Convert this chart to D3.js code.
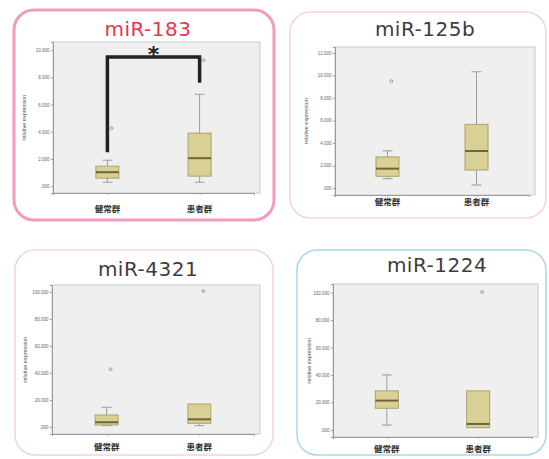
<!DOCTYPE html>
<html>
<head>
<meta charset="utf-8">
<script src="https://cdn.jsdelivr.net/npm/d3@7"></script>
<style>
  html, body { margin: 0; padding: 0; background: #ffffff; }
  svg { display: block; }
</style>
</head>
<body>
<svg id="chart" width="549" height="459"></svg>
<script>
// Groups on the x axis
const groups = ["健常群", "患者群"];

// Box statistics per group: [lower whisker, Q1, median, Q3, upper whisker]
const mir183Stats  = [[0.29, 0.59, 1.03, 1.47, 1.91], [0.29, 0.74, 2.06, 3.90, 6.76]];
const mir183Out    = [[4.26], [9.26]];
const mir183Ticks  = [0, 2, 4, 6, 8, 10];

const mir125bStats = [[0.83, 1.04, 1.72, 2.76, 3.30], [0.27, 1.60, 3.29, 5.66, 10.33]];
const mir125bOut   = [[9.5], []];
const mir125bTicks = [0, 2, 4, 6, 8, 10, 12];

const mir4321Stats = [[1.0, 1.5, 3.5, 8.9, 14.6], [1.0, 2.7, 5.7, 17.0, 17.0]];
const mir4321Out   = [[42.7], [100.7]];
const mir4321Ticks = [0, 20, 40, 60, 80, 100];

const mir1224Stats = [[3.6, 15.8, 21.4, 28.5, 40.1], [1.7, 1.7, 4.4, 28.5, 28.5]];
const mir1224Out   = [[], [100.5]];
const mir1224Ticks = [0, 20, 40, 60, 80, 100];

// Significance bracket for miR-183: [left arm end, bar level, right arm end]
const bracketLevels = [2.5, 9.5, 7.6];
const bracketMark = "*";

const panels = [
  { title: "miR-183", titleColor: "#e8364d", stats: mir183Stats, out: mir183Out, ticks: mir183Ticks,
    domain: [-0.5, 10.6], frame: [14, 10, 260, 210], frameColor: "#f19bc1", frameWidth: 3,
    plot: [53, 42, 207, 151], title_xy: [148, 36], labelY: 212, axisX: 26, bracket: true },
  { title: "miR-125b", titleColor: "#3d3d3d", stats: mir125bStats, out: mir125bOut, ticks: mir125bTicks,
    domain: [-0.62, 12.53], frame: [290, 12, 256, 206], frameColor: "#f6d3dc", frameWidth: 1.5,
    plot: [335, 47, 200, 148], title_xy: [425, 36], labelY: 205, axisX: 308 },
  { title: "miR-4321", titleColor: "#3d3d3d", stats: mir4321Stats, out: mir4321Out, ticks: mir4321Ticks,
    domain: [-5.2, 105.2], frame: [15, 250, 258, 205], frameColor: "#f6d3dc", frameWidth: 1.5,
    plot: [52, 285, 208, 149], title_xy: [148, 276], labelY: 450, axisX: 27 },
  { title: "miR-1224", titleColor: "#3d3d3d", stats: mir1224Stats, out: mir1224Out, ticks: mir1224Ticks,
    domain: [-5.1, 106.3], frame: [297, 250, 249, 205], frameColor: "#a6d7ec", frameWidth: 1.5,
    plot: [333, 284, 205, 153], title_xy: [437, 272], labelY: 452, axisX: 311 }
];

const svg = d3.select("#chart");
const tickFmt = v => d3.format(".3f")(v).replace(/^0\./, ".");

panels.forEach(p => {
  const g = svg.append("g");
  const [fx, fy, fw, fh] = p.frame;
  const [px, py, pw, ph] = p.plot;

  // Rounded outer frame
  g.append("rect")
    .attr("x", fx).attr("y", fy).attr("width", fw).attr("height", fh)
    .attr("rx", 20).attr("ry", 20)
    .attr("fill", "none").attr("stroke", p.frameColor).attr("stroke-width", p.frameWidth);

  // Title
  g.append("text")
    .attr("x", p.title_xy[0]).attr("y", p.title_xy[1])
    .attr("text-anchor", "middle")
    .attr("font-family", "'DejaVu Sans', sans-serif")
    .attr("font-size", 20).attr("letter-spacing", 0.5)
    .attr("fill", p.titleColor)
    .text(p.title);

  // Plot background
  g.append("rect")
    .attr("x", px).attr("y", py).attr("width", pw).attr("height", ph)
    .attr("fill", "#efefef").attr("stroke", "#c9c9c9").attr("stroke-width", 1);

  const y = d3.scaleLinear().domain(p.domain).range([py + ph, py]);
  const x = d3.scalePoint().domain(groups).range([px, px + pw - 6]).padding(0.59);

  // Y axis
  const yAxis = g.append("g")
    .attr("transform", `translate(${px},0)`)
    .call(d3.axisLeft(y).tickValues(p.ticks).tickFormat(tickFmt).tickSize(2).tickPadding(1.5));
  yAxis.select(".domain").attr("stroke", "#9a9a9a");
  yAxis.selectAll(".tick line").attr("stroke", "#9a9a9a");
  yAxis.selectAll(".tick text")
    .attr("font-family", "'Liberation Sans', sans-serif")
    .attr("font-size", 4.5).attr("fill", "#666");

  // X axis tick marks and group labels
  const xAxis = g.append("g")
    .attr("transform", `translate(0,${py + ph})`)
    .call(d3.axisBottom(x).tickSize(2).tickFormat(""));
  xAxis.select(".domain").attr("stroke", "#9a9a9a");
  xAxis.selectAll(".tick line").attr("stroke", "#aaa");

  g.selectAll(".glabel").data(groups).enter().append("text")
    .attr("x", d => x(d)).attr("y", p.labelY)
    .attr("text-anchor", "middle")
    .attr("font-family", "'Noto Sans CJK JP', sans-serif")
    .attr("font-size", 8.5).attr("font-weight", "bold")
    .attr("fill", "#333")
    .text(d => d);

  // Y axis title
  g.append("text")
    .attr("transform", `translate(${p.axisX},${py + ph / 2}) rotate(-90)`)
    .attr("text-anchor", "middle")
    .attr("font-family", "'Liberation Sans', sans-serif")
    .attr("font-size", 5.5).attr("fill", "#555")
    .text("relative expression");

  // Box plots
  const bw = 23;
  groups.forEach((grp, i) => {
    const [lo, q1, med, q3, hi] = p.stats[i];
    const cx = x(grp);
    const b = g.append("g");
    b.append("line").attr("x1", cx).attr("x2", cx).attr("y1", y(q3)).attr("y2", y(hi))
      .attr("stroke", "#9c9c9c").attr("stroke-width", 1);
    b.append("line").attr("x1", cx).attr("x2", cx).attr("y1", y(q1)).attr("y2", y(lo))
      .attr("stroke", "#9c9c9c").attr("stroke-width", 1);
    if (hi > q3) {
      b.append("line").attr("x1", cx - 5).attr("x2", cx + 5).attr("y1", y(hi)).attr("y2", y(hi))
        .attr("stroke", "#9c9c9c").attr("stroke-width", 1);
    }
    if (lo < q1) {
      b.append("line").attr("x1", cx - 5).attr("x2", cx + 5).attr("y1", y(lo)).attr("y2", y(lo))
        .attr("stroke", "#9c9c9c").attr("stroke-width", 1);
    }
    b.append("rect")
      .attr("x", cx - bw / 2).attr("width", bw)
      .attr("y", y(q3)).attr("height", y(q1) - y(q3))
      .attr("fill", "#d8d094").attr("stroke", "#aaa46c").attr("stroke-width", 1);
    b.append("line").attr("x1", cx - bw / 2).attr("x2", cx + bw / 2).attr("y1", y(med)).attr("y2", y(med))
      .attr("stroke", "#6e673a").attr("stroke-width", 2);

    p.out[i].forEach(v => {
      b.append("circle").attr("cx", cx + 4).attr("cy", y(v)).attr("r", 1.4)
        .attr("fill", "none").attr("stroke", "#777").attr("stroke-width", 0.7);
    });
  });

  // Significance bracket
  if (p.bracket) {
    const xa = x(groups[0]), xb = x(groups[1]);
    const [l, top, r] = bracketLevels;
    g.append("path")
      .attr("d", d3.line()([[xa, y(l)], [xa, y(top)], [xb, y(top)], [xb, y(r)]]))
      .attr("fill", "none").attr("stroke", "#222").attr("stroke-width", 3.5)
      .attr("stroke-linejoin", "miter");
    g.append("text")
      .attr("x", (xa + xb) / 2).attr("y", y(top) + 5)
      .attr("text-anchor", "middle")
      .attr("font-family", "'DejaVu Sans', sans-serif")
      .attr("font-size", 22).attr("font-weight", "bold")
      .attr("fill", "#222")
      .text(bracketMark);
  }
});
</script>
</body>
</html>
